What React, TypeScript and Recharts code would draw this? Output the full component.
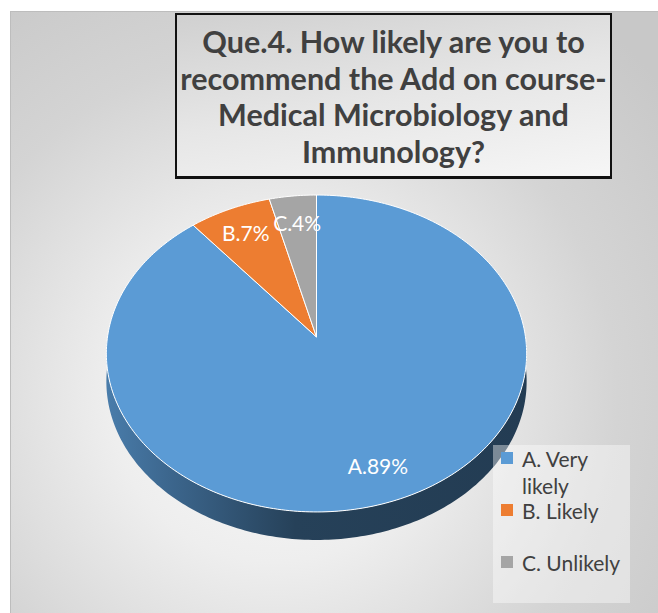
import { PieChart, Pie, Legend } from 'recharts'

// survey answers, percent of respondents
const categories = ['A. Very likely', 'B. Likely', 'C. Unlikely']
const percents = [89, 7, 4]
const colors = ['#5B9BD5', '#ED7D31', '#A5A5A5']

const data = categories.map((name, i) => ({
  name,
  value: percents[i],
  code: name.split('.')[0],
  idx: i,
  fill: colors[i],
}))

const TILT = 0.75
const PERSP = 0.104
const DEPTH = 28
const FONT = 'Lato, "Open Sans", sans-serif'

// flat disk seen from above at an angle, with a bit of perspective
function project(cx: number, cy: number, rad: number, angle: number, rho: number) {
  const a = (angle * Math.PI) / 180
  const d = rad / PERSP
  const X = rho * Math.cos(a)
  const Z = rho * Math.sin(a)
  const s = d / (d + Z)
  return [cx + X * s, cy - TILT * Z * s]
}

function arcPoints(cx: number, cy: number, r: number, a1: number, a2: number) {
  const n = Math.max(2, Math.ceil(Math.abs(a2 - a1)))
  const pts: number[][] = []
  for (let i = 0; i <= n; i++) pts.push(project(cx, cy, r, a1 + ((a2 - a1) * i) / n, r))
  return pts
}

function shade(hex: string, f: number) {
  const n = parseInt(hex.slice(1), 16)
  const c = [(n >> 16) & 255, (n >> 8) & 255, n & 255].map((v) => Math.round(v * f))
  return `rgb(${c.join(',')})`
}

function TopSector(props: any) {
  const { cx, cy, outerRadius, startAngle, endAngle, fill } = props
  const pts = arcPoints(cx, cy, outerRadius, startAngle, endAngle)
  const d = `M${cx},${cy}` + pts.map((p) => `L${p[0]},${p[1]}`).join('') + 'Z'
  return <path d={d} fill={fill} stroke="#ffffff" strokeWidth={1} strokeLinejoin="round" />
}

function SideSector(props: any) {
  const { cx, cy, outerRadius, startAngle, endAngle } = props
  const idx = (props.payload ?? props).idx ?? 0
  const base = colors[idx]
  const lo = Math.min(startAngle, endAngle)
  const hi = Math.max(startAngle, endAngle)
  const parts: number[][] = []
  for (const k of [-360, 0, 360]) {
    const a1 = Math.max(lo, -180 + k)
    const a2 = Math.min(hi, k)
    if (a2 > a1) parts.push([a1, a2])
  }
  const gid = `side-${idx}`
  return (
    <g>
      <defs>
        <linearGradient id={gid} gradientUnits="userSpaceOnUse" x1={cx - outerRadius} x2={cx + outerRadius} y1={0} y2={0}>
          <stop offset="0" stopColor={shade(base, 0.8)} />
          <stop offset="0.15" stopColor={shade(base, 0.66)} />
          <stop offset="0.45" stopColor={shade(base, 0.42)} />
          <stop offset="1" stopColor={shade(base, 0.39)} />
        </linearGradient>
      </defs>
      {parts.map(([a1, a2], i) => {
        const top = arcPoints(cx, cy, outerRadius, a1, a2)
        const bottom = top
          .slice()
          .reverse()
          .map(([x, y]) => [x, y + DEPTH])
        const all = top.concat(bottom)
        const d = all.map((p, j) => `${j ? 'L' : 'M'}${p[0]},${p[1]}`).join('') + 'Z'
        return <path key={i} d={d} fill={`url(#${gid})`} />
      })}
    </g>
  )
}

function renderLabel(props: any) {
  const { cx, cy, outerRadius, midAngle, payload, value } = props
  const [x, y] = project(cx, cy, outerRadius, midAngle, outerRadius * 0.8)
  return (
    <text
      x={x}
      y={y}
      fill="#ffffff"
      textAnchor="middle"
      dominantBaseline="central"
      style={{ fontFamily: FONT, fontSize: 21 }}
    >
      {`${(payload ?? props).code}.${value}%`}
    </text>
  )
}

function LegendContent({ payload }: any) {
  // both pies report items, keep one of each
  const all = payload ?? []
  const shown = all.filter((p: any) => p.type !== 'none')
  const src = shown.length ? shown : all
  const items = src.filter((p: any, i: number) => src.findIndex((q: any) => q.value === p.value) === i)
  return (
    <div
      style={{
        width: 137,
        height: 158,
        boxSizing: 'border-box',
        background: 'rgba(255,255,255,0.4)',
        paddingLeft: 8,
        fontFamily: FONT,
        fontSize: 21,
        lineHeight: '27px',
        color: '#404040',
      }}
    >
      {items.map((p: any) => (
        <div key={p.value} style={{ display: 'flex', alignItems: 'flex-start', height: 52 }}>
          <span
            style={{ width: 12, height: 12, background: p.color, marginTop: 7, marginRight: 9, flex: 'none' }}
          />
          <span style={{ width: 105 }}>{p.value}</span>
        </div>
      ))}
    </div>
  )
}

export default function App() {
  return (
    <div style={{ position: 'absolute', left: 0, top: 0, width: 658, height: 613, overflow: 'hidden', background: '#fff' }}>
      <div
        style={{
          position: 'absolute',
          left: 10,
          top: 11,
          width: 660,
          height: 620,
          borderLeft: '1px solid #bdbdbd',
          borderTop: '1px solid #bdbdbd',
          background: 'radial-gradient(circle at 40% 62%, #fbfbfb 0%, #eeeeee 30%, #d4d4d4 62%, #c8c8c8 90%)',
        }}
      />
      <div
        style={{
          position: 'absolute',
          left: 175,
          top: 13,
          width: 437,
          height: 166,
          boxSizing: 'border-box',
          border: '2px solid #111',
          borderBottomWidth: 3,
          background: 'linear-gradient(170deg, #d0d0d0 0%, #e6e6e6 50%, #f6f6f6 100%)',
          fontFamily: FONT,
          fontWeight: 700,
          fontSize: 30.5,
          lineHeight: '36.7px',
          color: '#404040',
          textAlign: 'center',
          paddingTop: 8,
          whiteSpace: 'nowrap',
        }}
      >
        Que.4. How likely are you to
        <br />
        recommend the Add on course-
        <br />
        Medical Microbiology and
        <br />
        Immunology?
      </div>
      <div style={{ position: 'absolute', left: 0, top: 0 }}>
        <PieChart width={658} height={613} margin={{ top: 0, right: 0, bottom: 0, left: 0 }}>
          <Pie
            data={data}
            dataKey="value"
            nameKey="name"
            cx={316.5}
            cy={337}
            outerRadius={209}
            startAngle={90}
            endAngle={-270}
            legendType="none"
            shape={SideSector}
            isAnimationActive={false}
          />
          <Pie
            data={data}
            dataKey="value"
            nameKey="name"
            cx={316.5}
            cy={337}
            outerRadius={209}
            startAngle={90}
            endAngle={-270}
            legendType="square"
            shape={TopSector}
            label={renderLabel}
            labelLine={false}
            isAnimationActive={false}
          />
          <Legend
            content={LegendContent}
            wrapperStyle={{ left: 493, top: 445, right: 'auto', bottom: 'auto', width: 137, height: 158 }}
          />
        </PieChart>
      </div>
    </div>
  )
}
